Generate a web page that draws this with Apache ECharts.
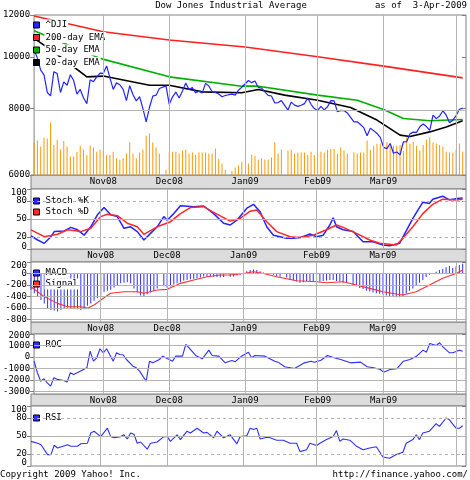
<!DOCTYPE html>
<html>
<head>
<meta charset="utf-8">
<script src="https://cdn.jsdelivr.net/npm/echarts@6/dist/echarts.min.js"></script>
<style>
html, body { margin: 0; padding: 0; background: #fff; }
#chart { width: 470px; height: 480px; }
</style>
</head>
<body>
<div id="chart"></div>
<script>
// x = trading weekday index counted from 3-Oct-2008 (holidays stay empty)
const monthIdx = [21, 41, 64, 86, 106];
const monthLabels = ['Nov08', 'Dec08', 'Jan09', 'Feb09', 'Mar09'];
const monthLines = [21, 41, 64, 86, 106, 128];

const priceTicks = [6000, 8000, 10000, 12000];
const stochTicks = [0, 20, 50, 80, 100];
const macdTicks = [-800, -600, -400, -200, 0, 200];
const rocTicks = [-3000, -2000, -1000, 0, 1000, 2000];
const rsiTicks = [0, 20, 50, 80, 100];

// ^DJI daily close, one entry per weekday, null = market holiday
const close = [
  10325, 9955, 9447, 9258, 8579, 8451, 9387, 9310, 8577, 8979, 8852, 9265, 9034, 8519, 8691, 8378, 8175, 9065, 8990, 9180, 9325,
  9319, 9625, 9139, 8695, 8943, 8870, 8694, 8283, 8835, 8497, 8273, 8425, 7997, 7552, 8046, 8443, 8479, 8727, null, 8829,
  8149, 8419, 8592, 8376, 8635, 8934, 8691, 8761, 8565, 8629, 8564, 8924, 8824, 8604, 8579, 8519, 8419, 8468, null, 8515, 8483, 8668, 8776,
  null, 9034, 8952, 9015, 8769, 8742, 8599, 8474, 8448, 8200, 8212, 8281, null, 7949, 8229, 8123, 8077, 8116, 8175, 8375, 8149, 8001,
  7936, 8078, 7957, 8063, 8280, 8270, 7889, 7939, 7933, 7850, null, 7553, 7556, 7466, 7366, 7115, 7351, 7271, 7183, 7063,
  6763, 6726, 6876, 6594, 6627, 6547, 6926, 6930, 7170, 7224, 7216, 7395, 7486, 7401, 7279, 7776, 7660, 7750, 7925, 7776, 7522, 7609,
  7761, 7978, 8017
];

// volume (millions)
const volume = [
  400, 430, 355, 465, 455, 655, 375, 440, 320, 425, 355, 230, 230, 290, 365, 320, 250, 365, 345, 290, 315,
  310, 250, 250, 290, 210, 190, 210, 270, 410, 270, 210, 280, 320, 490, 520, 410, 345, 265, null, 65,
  285, 290, 290, 270, 305, 315, 270, 280, 250, 280, 280, 280, 270, 270, 330, 200, 145, 65, null, 50, 95, 120, 165,
  null, 145, 250, 240, 190, 210, 195, 195, 220, 410, 270, 320, null, 305, 315, 265, 280, 280, 280, 250, 290, 250,
  265, 290, 280, 315, 325, 325, 265, 345, 305, 270, null, 285, 270, 280, 280, 430, 315, 365, 390, 395,
  470, 410, 355, 365, 365, 375, 300, 470, 390, 415, 365, 305, 375, 440, 470, 405, 395, 375, 355, 290, 280, 280,
  315, 395, 290
];

// moving averages, read at sample days [day, value]
const ema200 = [[0, 11950], [21, 11160], [41, 10770], [64, 10450], [86, 10015], [106, 9617], [128, 9180], [130, 9140]];
const ema50 = [[0, 11210], [8, 10690], [20, 9944], [41, 9180], [63, 8816], [68, 8816], [86, 8480], [98, 8295],
  [106, 7970], [112, 7666], [120, 7590], [130, 7630]];
const ema20 = [[0, 10846], [3, 10535], [10, 9800], [16, 9180], [21, 9210], [35, 8850], [41, 8850], [51, 8600],
  [63, 8567], [68, 8690], [76, 8480], [86, 8295], [96, 8040], [104, 7612], [111, 7132], [114, 7090], [120, 7232],
  [125, 7390], [130, 7590]];

const stochK = [[0, 22], [2, 15], [4, 9.5], [6, 20.5], [7, 29], [10, 30], [12, 36], [14, 32], [16, 23], [18, 37], [20, 57],
  [22, 69], [24, 57], [26, 54], [28, 34.5], [30, 37], [32, 29], [34, 15], [36, 26], [38, 37], [40, 54], [41, 48], [43, 59],
  [45, 72], [49, 70.5], [52, 71.7], [55, 59], [58, 43], [60, 40], [62, 48], [65, 68], [67, 74.5], [69, 62], [71, 37],
  [73, 23], [75, 20.5], [77, 18], [79, 18], [81, 19], [84, 25], [86, 20.5], [88, 23], [90, 40], [91, 52], [92, 37],
  [94, 32], [97, 29], [100, 12], [103, 12], [106, 6.7], [108, 5.5], [111, 9.5], [115, 51], [118, 78], [120, 76],
  [121, 83], [124, 88], [126, 82], [129, 84.5], [130, 85]];
const stochD = [[0, 32], [4, 20.5], [8, 24.5], [11, 32], [15, 29], [18, 34.5], [21, 54], [23, 58], [26, 55.5], [29, 43],
  [32, 37], [34, 24.5], [38, 37], [42, 45.5], [45, 59], [48, 69], [52, 70.5], [55, 61], [60, 46.5], [63, 51], [66, 63],
  [68, 65], [71, 45.5], [74, 29], [78, 20.5], [81, 19], [85, 23], [89, 32], [92, 40], [94, 36], [98, 26], [102, 15],
  [105, 9.5], [110, 6.7], [112, 18], [115, 37], [118, 59], [121, 74.5], [124, 83], [128, 81.7], [130, 83]];

// MACD per weekday
const macd = [
  -280, -340, -400, -460, -520, -600, -630, -640, -660, -630, -600, -590, -600, -610, -620, -630, -620, -560, -520, -470, -430,
  -380, -320, -300, -280, -240, -200, -170, -160, -150, -170, -260, -330, -380, -400, -360, -330, -300, -260, null, -220,
  -250, -220, -190, -170, -150, -120, -110, -100, -90, -80, -70, -50, -45, -50, -55, -60, -65, -60, null, -55, -50, -35, -20,
  null, 40, 60, 70, 60, 40, 20, 0, -10, -20, -50, -55, null, -70, -110, -120, -140, -160, -150, -130, -130, -140,
  -150, -140, -130, -120, -110, -110, -130, -140, -150, -160, null, -200, -220, -250, -270, -300, -310, -330, -340, -350,
  -360, -380, -390, -400, -410, -410, -390, -350, -300, -260, -210, -160, -110, -60, -20, 10, 30, 60, 80, 110, 130,
  100, 120, 150, 170
];
const signal = [[0, -228], [4, -400], [8, -517], [11, -575], [15, -575], [17, -600], [19, -546], [21, -460], [24, -343],
  [28, -315], [32, -315], [34, -343], [38, -286], [41, -274], [45, -170], [49, -113], [53, -55], [57, -26], [60, -26],
  [64, 0], [67, 30], [70, 0], [74, -55], [80, -125], [86, -142], [89, -160], [94, -142], [98, -200], [102, -257],
  [106, -315], [110, -355], [112, -373], [116, -315], [120, -200], [124, -83], [128, 0], [130, 60]];

const roc = [[0, -355], [1, -1360], [2, -2090], [3, -1880], [4, -2230], [5, -2520], [6, -1790], [7, -1930], [9, -2030],
  [10, -2170], [11, -1360], [12, -1510], [15, -1075], [16, -930], [17, 510], [18, -355], [19, -60], [20, 720], [21, 370],
  [22, 720], [24, -355], [25, 370], [26, 225], [27, 200], [28, -210], [30, -790], [31, -930], [32, -1220], [34, -2090],
  [35, -355], [36, -500], [38, -210], [39, 80], [41, -210], [42, -355], [43, 80], [45, 80], [46, 1090], [47, 800],
  [49, 140], [51, -150], [53, 600], [54, 140], [56, 80], [58, -500], [60, -300], [61, -400], [63, 100], [65, 425],
  [66, -60], [67, 140], [70, 80], [73, -355], [74, -440], [76, -840], [79, -990], [82, -500], [84, -355], [85, -440],
  [87, -270], [89, 140], [91, -60], [93, -210], [96, -500], [99, -440], [101, -840], [103, -930], [105, -1075],
  [106, -1310], [108, -1075], [110, -1015], [112, -355], [114, -210], [116, 80], [118, 600], [119, 425], [120, 1180],
  [122, 1000], [123, 1240], [124, 890], [126, 370], [127, 370], [129, 600], [130, 510]];

const rsi = [[0, 41], [2, 38], [3, 35.5], [5, 19], [6, 19], [7, 34.5], [8, 30], [11, 35.5], [12, 33], [14, 33], [15, 37],
  [17, 38], [18, 55], [19, 58], [21, 49], [23, 63], [24, 49], [25, 47], [27, 49], [28, 52], [29, 45], [30, 55], [31, 53],
  [32, 38], [33, 40], [35, 28], [36, 38], [38, 40], [40, 49], [41, 49], [42, 41], [44, 52], [45, 44], [47, 58], [48, 55],
  [50, 63], [52, 55], [53, 56], [55, 47], [56, 58], [58, 47], [60, 52], [62, 37], [63, 49], [65, 50.5], [66, 63],
  [67, 61], [68, 63], [69, 45], [71, 48], [72, 47], [74, 43], [76, 43], [78, 38], [80, 38], [81, 24], [83, 27], [84, 38],
  [86, 34], [87, 38], [89, 44], [91, 49], [92, 59], [93, 41], [94, 45], [96, 43], [98, 33], [100, 27], [102, 30],
  [104, 32], [106, 15], [108, 13], [110, 19], [112, 23], [113, 38], [115, 44], [116, 52], [117, 44], [118, 55], [120, 58],
  [122, 70.5], [123, 66], [125, 80], [126, 77], [128, 63], [129, 63], [130, 67]];

const FONT = 'DejaVu Sans Mono';
const LEFT = 31, WIDTH = 435;
const panels = [
  { top: 15, height: 160 },
  { top: 189, height: 60 },
  { top: 262, height: 60 },
  { top: 334, height: 60 },
  { top: 406, height: 60 }
];
const lg = v => Math.log10(v);

// shiftTop / shiftBottom: edge labels nudged inside the panel (px), like the original
const yDefs = [
  { min: lg(6000), max: lg(12000), ticks: priceTicks.map(lg), fmt: v => String(Math.round(Math.pow(10, v))), shiftTop: 0, shiftBottom: 0 },
  { min: 0, max: 100, ticks: stochTicks, shiftTop: 4, shiftBottom: 2.5 },
  { min: -840, max: 200, ticks: macdTicks, shiftTop: 4, shiftBottom: 0 },
  { min: -3200, max: 2000, ticks: rocTicks, shiftTop: 2, shiftBottom: 0 },
  { min: 0, max: 100, ticks: rsiTicks, shiftTop: 4, shiftBottom: 3 }
];
const hLines = [
  [{ v: lg(8000) }],
  [{ v: 20, d: 1 }, { v: 50 }, { v: 80, d: 1 }],
  [{ v: 0 }, { v: -200 }, { v: -400 }, { v: -600 }, { v: -800 }],
  [{ v: 1000 }, { v: 0 }, { v: -1000 }, { v: -2000 }, { v: -3000 }],
  [{ v: 20, d: 1 }, { v: 50 }, { v: 80, d: 1 }]
];

const pairs = arr => arr.map((v, i) => [i, v]).filter(p => p[1] != null);
const logPairs = arr => arr.map(p => [p[0], lg(p[1])]);

const grids = panels.map(p => ({
  left: LEFT, width: WIDTH, top: p.top, height: p.height,
  show: true, backgroundColor: '#fff', borderColor: '#808080', borderWidth: 1
}));

const xAxes = panels.map((p, i) => ({
  gridIndex: i, type: 'value', min: 0, max: 131,
  axisLine: { show: false }, axisTick: { show: false }, splitLine: { show: false },
  axisLabel: i < 4 ? {
    show: true, customValues: monthIdx, margin: 2,
    formatter: v => monthLabels[monthIdx.indexOf(v)] || '',
    fontFamily: FONT, fontSize: 9, color: '#000'
  } : { show: false }
}));

const labelStyle = { margin: 4, showMinLabel: true, showMaxLabel: true, fontFamily: FONT, fontSize: 9, color: '#000' };

// three y axes per panel: left ticks + inner labels, right inside ticks, edge labels
const yAxes = [];
yDefs.forEach((d, i) => {
  const perPx = (d.max - d.min) / panels[i].height;
  const fmtTick = t => d.fmt ? d.fmt(t) : String(t);
  const inner = d.ticks.filter(t => t !== d.max && t !== d.min);
  const edge = d.ticks.filter(t => t === d.max || t === d.min);
  const edgeAt = edge.map(t => t === d.max ? t - d.shiftTop * perPx : t + d.shiftBottom * perPx);
  const base = { gridIndex: i, type: 'value', min: d.min, max: d.max, axisLine: { show: false }, splitLine: { show: false } };
  yAxes.push(Object.assign({}, base, {
    position: 'left',
    axisTick: { show: true, customValues: d.ticks, length: 4, lineStyle: { color: '#808080' } },
    axisLabel: Object.assign({ customValues: inner, formatter: v => fmtTick(v) }, labelStyle)
  }));
  yAxes.push(Object.assign({}, base, {
    position: 'right', axisLabel: { show: false },
    axisTick: { show: true, inside: true, customValues: d.ticks, length: 4, lineStyle: { color: '#808080' } }
  }));
  yAxes.push(Object.assign({}, base, {
    position: 'left', offset: 0, axisTick: { show: false },
    axisLabel: Object.assign({
      customValues: edgeAt,
      formatter: v => {
        let k = 0;
        edgeAt.forEach((l, j) => { if (Math.abs(l - v) < Math.abs(edgeAt[k] - v)) k = j; });
        return fmtTick(edge[k]);
      }
    }, labelStyle)
  }));
});
yAxes.push({ gridIndex: 0, type: 'value', min: 0, max: 2000, show: false }); // volume
const VOL_AXIS = yAxes.length - 1;

function gridSeries(i) {
  return {
    type: 'line', xAxisIndex: i, yAxisIndex: 3 * i, data: [], z: 1, silent: true,
    markLine: {
      silent: true, symbol: 'none', animation: false, label: { show: false },
      lineStyle: { color: '#b4b4b4', width: 1, type: 'solid' },
      data: monthLines.map(x => ({ xAxis: x })).concat(hLines[i].map(h => ({
        yAxis: h.v, lineStyle: { color: '#b4b4b4', width: 1, type: h.d ? [3, 3] : 'solid' }
      })))
    }
  };
}

function lineSeries(name, data, color, xi, width) {
  return {
    name, type: 'line', xAxisIndex: xi, yAxisIndex: 3 * xi, data, color,
    showSymbol: false, symbol: 'none', z: 3,
    lineStyle: { color, width: width || 1.2 }
  };
}

function legend(names, top, gap) {
  return {
    data: names, orient: 'vertical', left: 33, top, icon: 'rect',
    itemWidth: 6, itemHeight: 6, itemGap: gap, selectedMode: false, padding: 0,
    textStyle: { fontFamily: FONT, fontSize: 9, color: '#000', backgroundColor: '#fff', lineHeight: 11, padding: [0, 1] },
    itemStyle: { borderColor: '#000', borderWidth: 1 }
  };
}

const bands = [[175, 189], [249, 262], [322, 334], [394, 406]];
const textStyle = (text, x, y, align) => ({
  type: 'text', x, y,
  style: { text, font: '9px ' + FONT, fill: '#000', align, textAlign: align, verticalAlign: 'middle', textVerticalAlign: 'middle' }
});

const chart = echarts.init(document.getElementById('chart'), null, { renderer: 'canvas' });
chart.setOption({
  animation: false,
  backgroundColor: '#fff',
  grid: grids,
  xAxis: xAxes,
  yAxis: yAxes,
  legend: [
    legend(['^DJI', '200-day EMA', '50-day EMA', '20-day EMA'], 19.5, 1.5),
    legend(['Stoch %K', 'Stoch %D'], 195.5, 0),
    legend(['MACD', 'Signal'], 267.5, 0),
    legend(['ROC'], 339.5, 0),
    legend(['RSI'], 412.5, 0)
  ],
  graphic: bands.map(b => ({
    type: 'rect', z: -1, silent: true,
    shape: { x: LEFT, y: b[0], width: WIDTH, height: b[1] - b[0] },
    style: { fill: '#dcdcdc', stroke: '#808080', lineWidth: 1 }
  })).concat([
    textStyle('Dow Jones Industrial Average', 231, 6, 'center'),
    textStyle('as of  3-Apr-2009', 467, 6, 'right'),
    textStyle('Copyright 2009 Yahoo! Inc.', 0, 475, 'left'),
    textStyle('http://finance.yahoo.com/', 468, 475, 'right')
  ]),
  series: [
    gridSeries(0), gridSeries(1), gridSeries(2), gridSeries(3), gridSeries(4),
    {
      name: 'Volume', type: 'bar', xAxisIndex: 0, yAxisIndex: VOL_AXIS, data: pairs(volume),
      barWidth: 1, itemStyle: { color: '#ff9900' }, z: 2, silent: true
    },
    lineSeries('200-day EMA', logPairs(ema200), '#ff2020', 0, 1.6),
    lineSeries('50-day EMA', logPairs(ema50), '#00b000', 0, 1.6),
    lineSeries('20-day EMA', logPairs(ema20), '#000000', 0, 1.6),
    lineSeries('^DJI', pairs(close).map(p => [p[0], lg(p[1])]), '#2424ff', 0, 1.2),
    lineSeries('Stoch %K', stochK, '#2424ff', 1, 1.5),
    lineSeries('Stoch %D', stochD, '#ff2828', 1, 1.5),
    {
      name: 'MACD', type: 'bar', xAxisIndex: 2, yAxisIndex: 6, data: pairs(macd),
      barWidth: 1, color: '#3030ff', itemStyle: { color: '#3030ff' }, z: 2, silent: true
    },
    lineSeries('Signal', signal, '#ff3030', 2, 1.1),
    lineSeries('ROC', roc, '#3030ff', 3, 1.1),
    lineSeries('RSI', rsi, '#3030ff', 4, 1.1)
  ]
});
</script>
</body>
</html>
